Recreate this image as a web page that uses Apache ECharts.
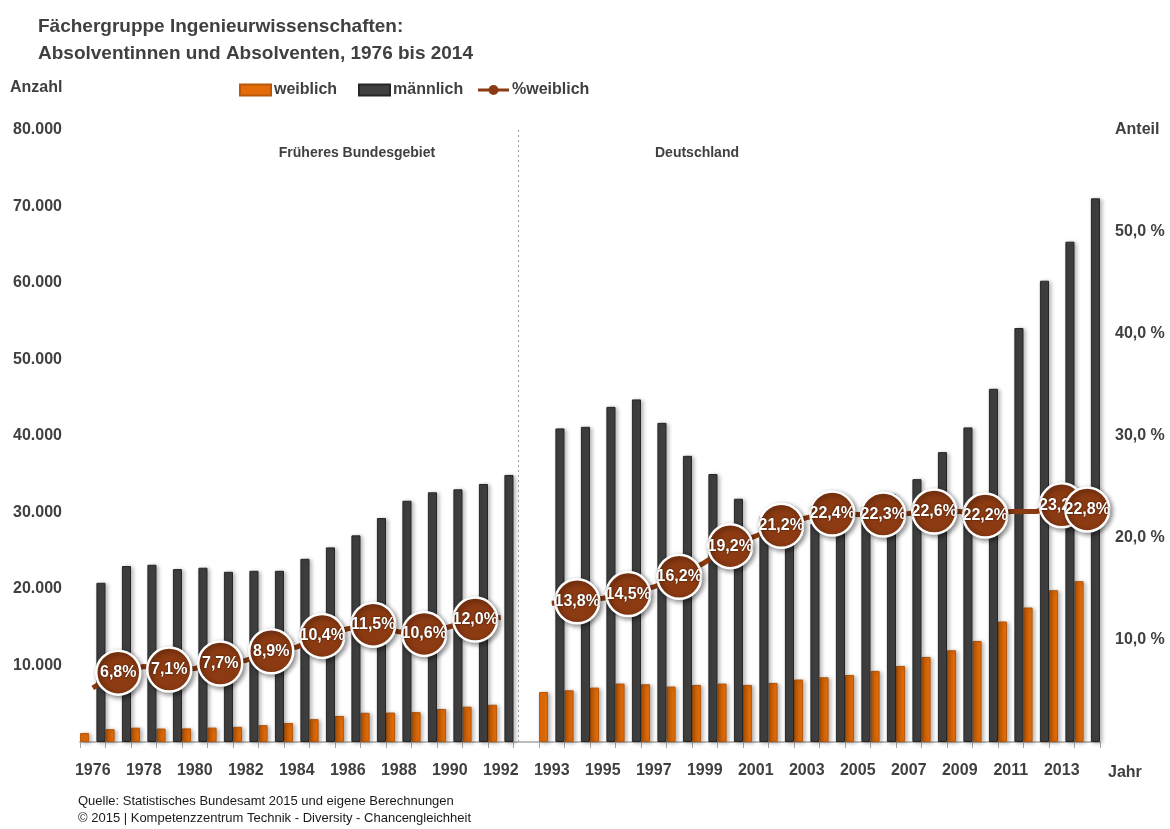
<!DOCTYPE html>
<html>
<head>
<meta charset="utf-8">
<title>Ingenieurwissenschaften Absolventen</title>
<script src="https://cdn.jsdelivr.net/npm/echarts@6/dist/echarts.min.js"></script>
<style>
  html, body { margin: 0; padding: 0; background: #fff; }
  #chart { width: 1170px; height: 829px; }
</style>
</head>
<body>
<div id="chart"></div>
<script>
// Früheres Bundesgebiet
const yearsWest = [1976, 1977, 1978, 1979, 1980, 1981, 1982, 1983, 1984, 1985, 1986, 1987, 1988, 1989, 1990, 1991, 1992]
const weiblichWest = [1180, 1680, 1870, 1760, 1780, 1880, 1980, 2200, 2480, 2990, 3400, 3820, 3850, 3900, 4320, 4620, 4870]
const maennlichWest = [20810, 23000, 23170, 22600, 22780, 22250, 22380, 22380, 23950, 25440, 27010, 29280, 31540, 32640, 33030, 33730, 34910]
const anteilWest = [5.3, 6.8, 7.4, 7.1, 7.2, 7.7, 8.0, 8.9, 9.3, 10.4, 11.1, 11.5, 10.8, 10.6, 11.3, 12.0, 12.2]

// Deutschland
const yearsDE = [1993, 1994, 1995, 1996, 1997, 1998, 1999, 2000, 2001, 2002, 2003, 2004, 2005, 2006, 2007, 2008, 2009, 2010, 2011, 2012, 2013, 2014]
const weiblichDE = [6540, 6760, 7110, 7640, 7550, 7250, 7460, 7640, 7460, 7720, 8160, 8460, 8760, 9290, 9940, 11120, 11990, 13210, 15750, 17580, 19840, 21020]
const maennlichDE = [40990, 41200, 43810, 44780, 41720, 37410, 35030, 31800, 29500, 28700, 28500, 29300, 30700, 32400, 34360, 37890, 41120, 46170, 54110, 60300, 65400, 71070]
const anteilDE = [13.6, 13.8, 14.1, 14.5, 15.2, 16.2, 17.6, 19.2, 20.2, 21.2, 22.0, 22.4, 22.3, 22.3, 22.4, 22.6, 22.6, 22.2, 22.6, 22.6, 23.2, 22.8]

// Jahre mit beschrifteten Kreisen
const labelYears = [1977, 1979, 1981, 1983, 1985, 1987, 1989, 1991, 1994, 1996, 1998, 2000, 2002, 2004, 2006, 2008, 2010, 2013, 2014]

const FONT = "'Liberation Sans', Arial, sans-serif"
const GREY = '#404040'
const BROWN = '#8B3A12'

// eine leere Kategorie zwischen 1992 und 1993
const categories = yearsWest.map(String).concat([''], yearsDE.map(String))
const weiblich = weiblichWest.concat(['-'], weiblichDE)
const maennlich = maennlichWest.concat(['-'], maennlichDE)
const anteil = anteilWest.concat(['-'], anteilDE)

const catIndex = (year) => categories.indexOf(String(year))

const circles = labelYears.map(y => [catIndex(y), anteil[catIndex(y)]])
const lastCircle = circles.pop()

const fmtThousand = (v) => v === 0 ? '' : String(v).replace(/\B(?=(\d{3})+(?!\d))/g, '.')
const fmtPct = (v) => (v === 0 || v === 60) ? '' : v.toFixed(1).replace('.', ',') + ' %'

const circleStyle = {
  color: BROWN,
  opacity: 1,
  borderColor: '#fff',
  borderWidth: 2.5,
  shadowBlur: 5,
  shadowColor: 'rgba(0,0,0,0.45)',
  shadowOffsetX: 2,
  shadowOffsetY: 2
}
const circleLabel = {
  show: true,
  position: 'inside',
  color: '#fff',
  fontFamily: FONT,
  fontWeight: 'bold',
  fontSize: 16,
  textShadowColor: 'rgba(0,0,0,0.7)',
  textShadowBlur: 2,
  formatter: p => p.value[1].toFixed(1).replace('.', ',') + '%'
}

const legendBase = {
  top: 82,
  itemWidth: 31,
  itemHeight: 11,
  padding: 0,
  selectedMode: false,
  textStyle: { fontFamily: FONT, fontWeight: 'bold', fontSize: 16, color: GREY, padding: [0, 0, 0, -2] }
}

var chartDom = document.getElementById('chart')
var chart = echarts.init(chartDom)

var option = {
  animation: false,
  title: {
    text: 'Fächergruppe Ingenieurwissenschaften:\nAbsolventinnen und Absolventen, 1976 bis 2014',
    left: 33,
    top: 8,
    textStyle: { fontFamily: FONT, fontWeight: 'bold', fontSize: 19, lineHeight: 27, color: GREY }
  },
  legend: [
    Object.assign({}, legendBase, { left: 239, data: [{ name: 'weiblich', icon: 'rect' }] }),
    Object.assign({}, legendBase, { left: 358, data: [{ name: 'männlich', icon: 'rect' }] }),
    Object.assign({}, legendBase, {
      left: 478,
      data: [{ name: '%weiblich', icon: 'path://M0,4H11V7H0Z M20,4H31V7H20Z M15.5,0.5A5,5 0 1 1 15.49,0.5Z' }]
    })
  ],
  grid: { left: 80, right: 70, top: 130, bottom: 87 },
  xAxis: {
    type: 'category',
    data: categories,
    axisLine: { lineStyle: { color: '#a6a6a6', width: 1.5 } },
    axisTick: { show: true, interval: 0, length: 6, lineStyle: { color: '#a6a6a6' } },
    axisLabel: { interval: 1, margin: 21, fontFamily: FONT, fontWeight: 'bold', fontSize: 16, color: GREY }
  },
  yAxis: [
    {
      type: 'value',
      min: 0,
      max: 80000,
      interval: 10000,
      splitLine: { show: false },
      axisLine: { show: false },
      axisLabel: { margin: 18, fontFamily: FONT, fontWeight: 'bold', fontSize: 16, color: GREY, formatter: fmtThousand }
    },
    {
      type: 'value',
      min: 0,
      max: 60,
      interval: 10,
      splitLine: { show: false },
      axisLine: { show: false },
      axisLabel: { margin: 15, fontFamily: FONT, fontWeight: 'bold', fontSize: 16, color: GREY, formatter: fmtPct }
    }
  ],
  graphic: [
    { type: 'text', x: 10, y: 88, style: { text: 'Anzahl', fontFamily: FONT, fontWeight: 'bold', fontSize: 16, fill: GREY, verticalAlign: 'middle' } },
    { type: 'text', x: 1115, y: 130, style: { text: 'Anteil', fontFamily: FONT, fontWeight: 'bold', fontSize: 16, fill: GREY, verticalAlign: 'middle' } },
    { type: 'text', x: 1108, y: 773, style: { text: 'Jahr', fontFamily: FONT, fontWeight: 'bold', fontSize: 16, fill: GREY, verticalAlign: 'middle' } },
    { type: 'text', x: 357, y: 153, style: { text: 'Früheres Bundesgebiet', fontFamily: FONT, fontWeight: 'bold', fontSize: 14, fill: GREY, align: 'center', verticalAlign: 'middle' } },
    { type: 'text', x: 697, y: 153, style: { text: 'Deutschland', fontFamily: FONT, fontWeight: 'bold', fontSize: 14, fill: GREY, align: 'center', verticalAlign: 'middle' } },
    { type: 'text', x: 78, y: 801, style: { text: 'Quelle: Statistisches Bundesamt 2015 und eigene Berechnungen', fontFamily: FONT, fontSize: 13, fill: '#1a1a1a', verticalAlign: 'middle' } },
    { type: 'text', x: 78, y: 818, style: { text: '© 2015 | Kompetenzzentrum Technik - Diversity - Chancengleichheit', fontFamily: FONT, fontSize: 13, fill: '#1a1a1a', verticalAlign: 'middle' } }
  ],
  series: [
    {
      name: 'weiblich',
      type: 'bar',
      data: weiblich,
      barCategoryGap: '0%',
      barGap: '80%',
      itemStyle: {
        color: '#E36C09',
        borderColor: '#B9580A',
        borderWidth: 1,
        shadowColor: 'rgba(0,0,0,0.3)',
        shadowBlur: 4,
        shadowOffsetX: 2,
        shadowOffsetY: 1
      },
      markLine: {
        silent: true,
        symbol: ['none', 'none'],
        label: { show: false },
        lineStyle: { type: [2, 3], color: '#9a9a9a', width: 1 },
        data: [{ xAxis: 17 }]
      }
    },
    {
      name: 'männlich',
      type: 'bar',
      data: maennlich,
      barCategoryGap: '0%',
      barGap: '80%',
      itemStyle: {
        color: '#404040',
        borderColor: '#262626',
        borderWidth: 1,
        shadowColor: 'rgba(0,0,0,0.3)',
        shadowBlur: 4,
        shadowOffsetX: 2,
        shadowOffsetY: 1
      }
    },
    {
      name: '%weiblich',
      type: 'line',
      yAxisIndex: 1,
      data: anteil,
      connectNulls: false,
      symbol: 'circle',
      symbolSize: 9,
      showSymbol: false,
      z: 3,
      lineStyle: { color: BROWN, width: 5 },
      itemStyle: { color: BROWN }
    },
    {
      name: 'kreise',
      type: 'scatter',
      yAxisIndex: 1,
      data: circles,
      symbolSize: 44,
      silent: true,
      z: 4,
      itemStyle: circleStyle,
      label: circleLabel
    },
    {
      name: 'kreis2014',
      type: 'scatter',
      yAxisIndex: 1,
      data: [lastCircle],
      symbolSize: 44,
      silent: true,
      z: 5,
      itemStyle: circleStyle,
      label: circleLabel
    }
  ]
}

option && chart.setOption(option)

window.addEventListener('resize', function() {
  chart?.resize()
})
</script>
</body>
</html>
